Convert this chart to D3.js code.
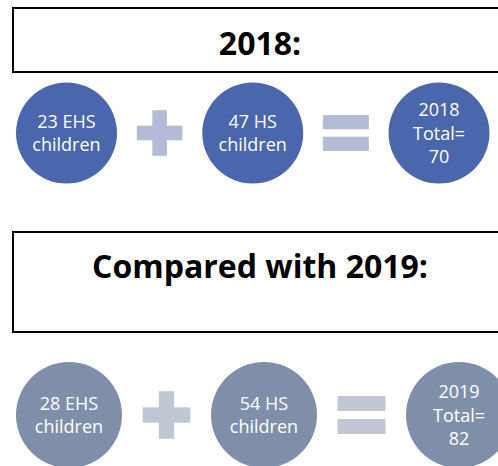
<!DOCTYPE html>
<html>
<head>
<meta charset="utf-8">
<script src="https://cdn.jsdelivr.net/npm/d3@7"></script>
<style>
  body { margin: 0; background: #fff; }
  svg { display: block; font-family: "Open Sans", sans-serif; }
</style>
</head>
<body>
<svg id="chart" width="498" height="466"></svg>
<script>
// values
var titles = ["2018:", "Compared with 2019:"];
var years = ["2018", "2019"];
var ehsCounts = [23, 28];
var hsCounts = [47, 54];
var totals = [70, 82];
var slots = ["ehs", "plus", "hs", "equals", "total"];

var svg = d3.select("#chart");

// one row = a titled box and a circle equation under it
var rows = [
  { box: [13, 8, 64], titleY: 55, cy: 133, x0: 66.5, x1: 439, r: 50.5, circle: "#4a66ac", sign: "#b3bbd7",
    arm: 22.8, thick: 14.6, eqW: 46, eqH: 14.3, eqGap: 7.4 },
  { box: [13, 232, 100], titleY: 278, cy: 415, x0: 69, x1: 459, r: 53, circle: "#7f8fa9", sign: "#c0c6d3",
    arm: 23.8, thick: 15.3, eqW: 48, eqH: 15, eqGap: 8 }
];

rows.forEach(function (row, i) {
  var g = svg.append("g");
  var x = d3.scalePoint().domain(slots).range([row.x0, row.x1]);

  g.append("rect")
    .attr("x", row.box[0]).attr("y", row.box[1])
    .attr("width", 520).attr("height", row.box[2])
    .attr("fill", "#fff").attr("stroke", "#000").attr("stroke-width", 2);

  g.append("text")
    .attr("x", 260).attr("y", row.titleY)
    .attr("text-anchor", "middle")
    .attr("font-size", 32).attr("font-weight", 700)
    .attr("fill", "#000")
    .text(titles[i]);

  var bubbles = [
    { slot: "ehs", lines: [ehsCounts[i] + " EHS", "children"] },
    { slot: "hs", lines: [hsCounts[i] + " HS", "children"] },
    { slot: "total", lines: [years[i], "Total=", String(totals[i])] }
  ];

  bubbles.forEach(function (b) {
    var cx = x(b.slot);
    g.append("circle")
      .attr("cx", cx).attr("cy", row.cy).attr("r", row.r)
      .attr("fill", row.circle);
    var lh = 23.4;
    var first = row.cy - (b.lines.length - 1) * lh / 2 + 6.5;
    g.selectAll(null).data(b.lines).enter().append("text")
      .attr("x", cx)
      .attr("y", function (d, k) { return first + k * lh; })
      .attr("text-anchor", "middle")
      .attr("font-size", 18)
      .attr("fill", "#fff")
      .text(function (d) { return d; });
  });

  // plus sign
  var px = x("plus");
  g.append("rect")
    .attr("x", px - row.arm).attr("y", row.cy - row.thick / 2)
    .attr("width", row.arm * 2).attr("height", row.thick)
    .attr("fill", row.sign);
  g.append("rect")
    .attr("x", px - row.thick / 2).attr("y", row.cy - row.arm)
    .attr("width", row.thick).attr("height", row.arm * 2)
    .attr("fill", row.sign);

  // equals sign
  var ex = x("equals");
  [-1, 1].forEach(function (s) {
    g.append("rect")
      .attr("x", ex - row.eqW / 2)
      .attr("y", s < 0 ? row.cy - row.eqGap / 2 - row.eqH : row.cy + row.eqGap / 2)
      .attr("width", row.eqW).attr("height", row.eqH)
      .attr("fill", row.sign);
  });
});
</script>
</body>
</html>
